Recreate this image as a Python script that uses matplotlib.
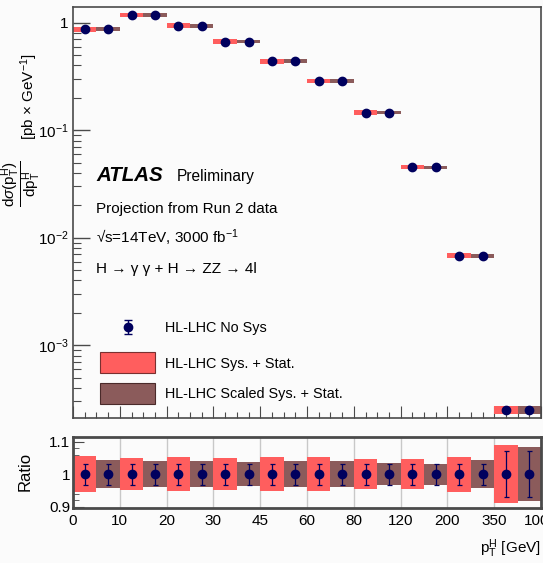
import matplotlib
matplotlib.use("Agg")
import matplotlib.pyplot as plt
import numpy as np
from matplotlib.patches import Rectangle
from matplotlib.ticker import FixedLocator, NullFormatter, FuncFormatter, LogLocator

plt.rcParams['font.family'] = ['Liberation Sans', 'DejaVu Sans']
plt.rcParams['mathtext.fontset'] = 'custom'
plt.rcParams['mathtext.rm'] = 'Liberation Sans'
plt.rcParams['mathtext.it'] = 'Liberation Sans:italic'
plt.rcParams['mathtext.bf'] = 'Liberation Sans:bold'

# ---------------- data ----------------
bin_edges_labels = ['0', '10', '20', '30', '45', '60', '80', '120', '200', '350', '1000']
xsec = [0.867, 1.18, 0.938, 0.666, 0.44, 0.287, 0.146, 0.0452, 0.0068, 0.00025]
rel_sys = [0.056, 0.050, 0.052, 0.048, 0.052, 0.052, 0.047, 0.046, 0.054, 0.088]
rel_scaled = [0.044, 0.039, 0.040, 0.036, 0.039, 0.039, 0.033, 0.032, 0.043, 0.083]
rel_nosys = [0.032, 0.032, 0.032, 0.032, 0.032, 0.032, 0.032, 0.032, 0.032, 0.070]

RED = '#ff5e5e'
BROWN = '#8b5b5b'
NAVY = '#00005e'
FRAME = '#4a4a4a'
BG = '#fbfbfb'

W, H = 543, 563
fig = plt.figure(figsize=(W / 100, H / 100), dpi=100, facecolor=BG)

def fx(px):
    return px / W

def fy(py):
    return 1 - py / H

ax = fig.add_axes([fx(73), fy(418), fx(541) - fx(73), fy(7) - fy(418)], facecolor=BG)
rx = fig.add_axes([fx(73), fy(508), fx(541) - fx(73), fy(437) - fy(508)], facecolor=BG)

n = len(xsec)
x_left = np.arange(n)

# ---------------- main panel ----------------
for i in range(n):
    y = xsec[i]
    ax.fill_between([i, i + 0.5], y * (1 - rel_sys[i]), y * (1 + rel_sys[i]),
                    color=RED, lw=0, zorder=2)
    ax.fill_between([i + 0.5, i + 1], y * (1 - rel_scaled[i]), y * (1 + rel_scaled[i]),
                    color=BROWN, lw=0, zorder=2)
xc = np.concatenate([x_left + 0.25, x_left + 0.75])
yc = np.concatenate([xsec, xsec])
ax.plot(xc, yc, 'o', color=NAVY, ms=6, zorder=4, mec=NAVY)

ax.set_yscale('log')
ax.set_xlim(0, n)
ax.set_ylim(2.1e-4, 1.4)

def yfmt(v, pos):
    e = int(round(np.log10(v)))
    if e == 0:
        return '1'
    return r'$10^{%d}$' % e
ax.yaxis.set_major_locator(LogLocator(base=10, numticks=10))
ax.yaxis.set_major_formatter(FuncFormatter(yfmt))
ax.yaxis.set_minor_locator(LogLocator(base=10, subs=np.arange(2, 10), numticks=20))
ax.yaxis.set_minor_formatter(NullFormatter())
ax.xaxis.set_major_locator(FixedLocator(np.arange(0, n + 1)))
ax.xaxis.set_minor_locator(FixedLocator(np.arange(0, n + 0.01, 0.25)))
ax.set_xticklabels([])
ax.tick_params(axis='both', which='both', direction='in', colors=FRAME, labelcolor='black')
ax.tick_params(axis='y', which='major', length=12, width=1.0, labelsize=11, pad=3)
ax.tick_params(axis='y', which='minor', length=6, width=0.8)
ax.tick_params(axis='x', which='major', length=9, width=0.8)
ax.tick_params(axis='x', which='minor', length=4.5, width=0.8)
for s in ax.spines.values():
    s.set_color(FRAME)
    s.set_linewidth(1.2)

# text
fig.text(fx(96), fy(181), 'ATLAS', fontsize=14.8,
         fontweight='bold', fontstyle='italic', ha='left', va='baseline')
fig.text(fx(177), fy(181), 'Preliminary', fontsize=11.2, ha='left', va='baseline')
fig.text(fx(96), fy(213), 'Projection from Run 2 data', fontsize=11, ha='left', va='baseline')
fig.text(fx(96), fy(243), '\u221as=14TeV, 3000 fb$^{-1}$', fontsize=11, ha='left', va='baseline')
fig.text(fx(96), fy(273), 'H \u2192 \u03b3 \u03b3 + H \u2192 ZZ \u2192 4l', fontsize=11,
         ha='left', va='baseline')

# legend (manual)
ax.errorbar([fx(128)], [fy(327)], yerr=[[0.012], [0.012]], fmt='o', color=NAVY, ms=6,
            capsize=3, elinewidth=1, transform=fig.transFigure, clip_on=False, zorder=5)
fig.patches.append(Rectangle((fx(100), fy(373)), fx(155) - fx(100), fy(352) - fy(373),
                             transform=fig.transFigure, facecolor=RED, edgecolor='#7a3030', lw=0.8))
fig.patches.append(Rectangle((fx(100), fy(404)), fx(155) - fx(100), fy(383) - fy(404),
                             transform=fig.transFigure, facecolor=BROWN, edgecolor='#4a2a2a', lw=0.8))
fig.text(fx(165), fy(332), 'HL-LHC No Sys', fontsize=10.4, ha='left', va='baseline')
fig.text(fx(165), fy(368), 'HL-LHC Sys. + Stat.', fontsize=10.4, ha='left', va='baseline')
fig.text(fx(165), fy(398), 'HL-LHC Scaled Sys. + Stat.', fontsize=10.4, ha='left', va='baseline')

# y axis title (fraction + unit as two pieces)
fig.text(fx(21), fy(184),
         r'$\dfrac{\mathrm{d}\sigma(\mathrm{p}_\mathrm{T}^\mathrm{H})}{\mathrm{dp}_\mathrm{T}^\mathrm{H}}$',
         rotation=90, fontsize=11, ha='center', va='center')
fig.text(fx(29), fy(140), r'[pb $\times$ GeV$^{-1}$]',
         rotation=90, fontsize=11, ha='center', va='bottom')

# ---------------- ratio panel ----------------
for i in range(1, n):
    rx.axvline(i, color='#c8c8c8', lw=1.0, zorder=0.5)
for i in range(n):
    rx.fill_between([i, i + 0.5], 1 - rel_sys[i], 1 + rel_sys[i], color=RED, lw=0, zorder=2)
    rx.fill_between([i + 0.5, i + 1], 1 - rel_scaled[i], 1 + rel_scaled[i], color=BROWN, lw=0, zorder=2)
rerr = np.concatenate([rel_nosys, rel_nosys])
rx.errorbar(xc, np.ones_like(xc), yerr=rerr, fmt='o', color=NAVY, ms=6, capsize=1.8,
            elinewidth=0.9, capthick=0.9, zorder=4)
rx.set_xlim(0, n)
rx.set_ylim(0.896, 1.114)
rx.yaxis.set_major_locator(FixedLocator([0.9, 1.0, 1.1]))
rx.yaxis.set_major_formatter(FuncFormatter(lambda v, p: {0.9: '0.9', 1.0: '1', 1.1: '1.1'}[round(v, 1)]))
rx.yaxis.set_minor_locator(FixedLocator(np.arange(0.9, 1.1001, 0.02)))
rx.xaxis.set_major_locator(FixedLocator(np.arange(0, n + 1)))
rx.set_xticklabels(bin_edges_labels)
rx.tick_params(axis='both', which='both', direction='in', colors=FRAME, labelcolor='black')
rx.tick_params(axis='y', which='major', length=8, labelsize=11, pad=2)
rx.tick_params(axis='y', which='minor', length=4)
rx.tick_params(axis='x', which='major', length=0, labelsize=11, pad=4)
for s in rx.spines.values():
    s.set_color(FRAME)
    s.set_linewidth(2.0)

fig.text(fx(25), fy(471), 'Ratio', rotation=90, fontsize=12, ha='center', va='center')
fig.text(fx(541), fy(553), r'p$_{\mathrm{T}}^{\mathrm{H}}$ [GeV]', fontsize=11, ha='right', va='baseline')

fig.savefig('out.png', dpi=100, facecolor=BG)
